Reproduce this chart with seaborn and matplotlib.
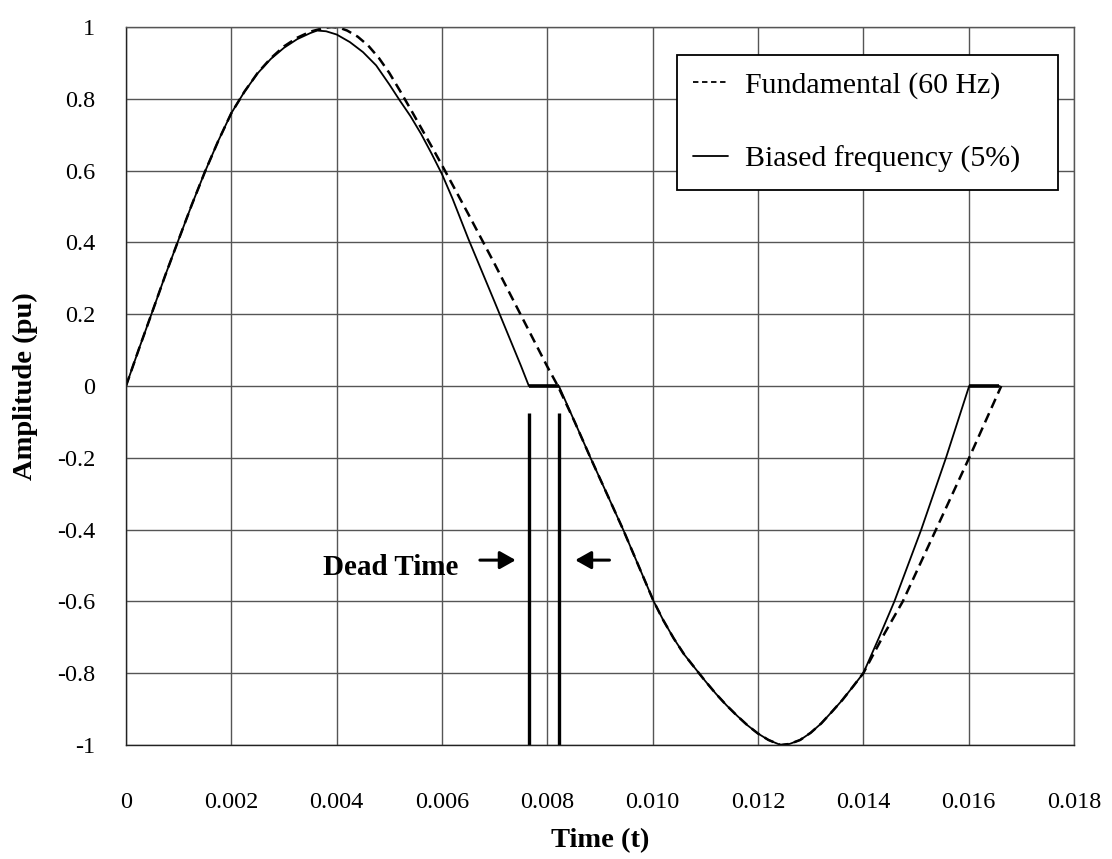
import numpy as np
import pandas as pd
import matplotlib
matplotlib.use("Agg")
import matplotlib.pyplot as plt
from matplotlib.lines import Line2D
import seaborn as sns

# ---- data ----
t_fund = [0, 0.00025, 0.0005, 0.00075, 0.001, 0.00125, 0.0015, 0.00175, 0.002, 0.00225,
          0.0025, 0.00275, 0.003, 0.00325, 0.0035, 0.00375, 0.0039, 0.00405, 0.0042, 0.0044,
          0.0046, 0.0048, 0.005, 0.0052, 0.0054, 0.0056, 0.0058, 0.006, 0.0065, 0.007,
          0.0075, 0.008, 0.0082,
          0.00852, 0.00882, 0.00913, 0.00944, 0.00973, 0.01002, 0.0102, 0.0104, 0.0106,
          0.01088, 0.011, 0.0112, 0.0114, 0.0116, 0.0118, 0.012, 0.0122, 0.01243,
          0.0126, 0.0128, 0.013, 0.0132, 0.0134, 0.0136, 0.0138, 0.014, 0.0144,
          0.01475, 0.01538, 0.01601, 0.01662]
y_fund = [0, 0.105, 0.207, 0.31, 0.408, 0.505, 0.597, 0.682, 0.76, 0.82,
          0.872, 0.913, 0.946, 0.97, 0.987, 0.997, 1.0, 0.998, 0.99, 0.973,
          0.948, 0.914, 0.872, 0.823, 0.772, 0.72, 0.668, 0.615, 0.479, 0.34,
          0.197, 0.054, 0,
          -0.1, -0.2, -0.3, -0.4, -0.5, -0.6, -0.652, -0.703, -0.748,
          -0.8, -0.822, -0.857, -0.889, -0.918, -0.945, -0.968, -0.986, -1.0,
          -0.997, -0.986, -0.966, -0.94, -0.908, -0.875, -0.838, -0.8, -0.69,
          -0.6, -0.4, -0.2, 0]

t_bias = [0, 0.00025, 0.0005, 0.00075, 0.001, 0.00125, 0.0015, 0.00175, 0.002, 0.00225,
          0.0025, 0.00275, 0.003, 0.00325, 0.0035, 0.00363, 0.0038, 0.004, 0.00425, 0.0045,
          0.00475, 0.005, 0.0052, 0.0054, 0.0056, 0.0058, 0.006, 0.0062, 0.0065, 0.007,
          0.0075, 0.00765, 0.00822,
          0.00852, 0.00882, 0.00913, 0.00944, 0.00973, 0.01002, 0.0102, 0.0104, 0.0106,
          0.01088, 0.011, 0.0112, 0.0114, 0.0116, 0.0118, 0.012, 0.0122, 0.01243,
          0.0126, 0.0128, 0.013, 0.0132, 0.0134, 0.0136, 0.0138, 0.014, 0.0143,
          0.01459, 0.0151, 0.01557, 0.01601, 0.01658]
y_bias = [0, 0.105, 0.207, 0.31, 0.408, 0.505, 0.597, 0.682, 0.76, 0.82,
          0.871, 0.911, 0.942, 0.966, 0.983, 0.99, 0.988, 0.979, 0.958, 0.93,
          0.893, 0.84, 0.795, 0.752, 0.703, 0.648, 0.59, 0.522, 0.41, 0.234,
          0.056, 0, 0,
          -0.1, -0.2, -0.3, -0.4, -0.5, -0.6, -0.652, -0.703, -0.748,
          -0.8, -0.822, -0.857, -0.889, -0.918, -0.945, -0.968, -0.986, -1.0,
          -0.997, -0.986, -0.966, -0.94, -0.908, -0.875, -0.838, -0.8, -0.7,
          -0.6, -0.4, -0.2, 0, 0]

dead_time = [0.00765, 0.00822]
dead_marker_top = -0.075

x_ticks = [0, 0.002, 0.004, 0.006, 0.008, 0.010, 0.012, 0.014, 0.016, 0.018]
x_labels = ["0", "0.002", "0.004", "0.006", "0.008", "0.010", "0.012", "0.014", "0.016", "0.018"]
y_ticks = [-1, -0.8, -0.6, -0.4, -0.2, 0, 0.2, 0.4, 0.6, 0.8, 1]
y_labels = ["-1", "-0.8", "-0.6", "-0.4", "-0.2", "0", "0.2", "0.4", "0.6", "0.8", "1"]

labels = ["Fundamental (60 Hz)", "Biased frequency (5%)"]

# ---- style ----
sns.set_theme(style="whitegrid")
plt.rcParams["font.family"] = ["Liberation Serif", "DejaVu Serif"]
plt.rcParams["text.color"] = "black"
plt.rcParams["axes.labelcolor"] = "black"
plt.rcParams["xtick.color"] = "black"
plt.rcParams["ytick.color"] = "black"

fig = plt.figure(figsize=(11.12, 8.59), dpi=100)
ax = fig.add_axes([0.1133, 0.1327, 0.8525, 0.8359])
ax.set_facecolor("white")

fund_df = pd.DataFrame({"t": t_fund, "y": y_fund})
bias_df = pd.DataFrame({"t": t_bias, "y": y_bias})

sns.lineplot(data=fund_df, x="t", y="y", ax=ax, color="black", lw=1.8,
             linestyle=(0, (4, 2.3)), estimator=None, sort=False, legend=False)
sns.lineplot(data=bias_df, x="t", y="y", ax=ax, color="black", lw=1.3,
             estimator=None, sort=False, legend=False)

# thicker flat (zero) segments of the biased waveform
tb = np.array(t_bias); yb = np.array(y_bias)
for i in range(len(tb) - 1):
    if yb[i] == 0 and yb[i + 1] == 0:
        ax.plot([tb[i], tb[i + 1]], [0, 0], color="black", lw=2.6, solid_capstyle="butt")

# dead-time markers
ax.vlines(dead_time, -1, dead_marker_top, colors="black", lw=2.4)
arrow_style = "-|>,head_length=0.8,head_width=0.45"
ax.annotate("", xy=(0.0074, -0.485), xytext=(0.00672, -0.485),
            arrowprops=dict(arrowstyle=arrow_style, color="black", lw=2.2,
                            shrinkA=0, shrinkB=0))
ax.annotate("", xy=(0.00853, -0.485), xytext=(0.00918, -0.485),
            arrowprops=dict(arrowstyle=arrow_style, color="black", lw=2.2,
                            shrinkA=0, shrinkB=0))
ax.text(0.00502, -0.505, "Dead Time", fontsize=21, fontweight="bold",
        ha="center", va="center")

ax.set_xlim(0, 0.018)
ax.set_ylim(-1, 1)
ax.set_xticks(x_ticks)
ax.set_xticklabels(x_labels)
ax.set_yticks(y_ticks)
ax.set_yticklabels(y_labels)
ax.tick_params(axis="both", length=0, labelsize=17.5, colors="black")
ax.tick_params(axis="x", pad=34)
ax.tick_params(axis="y", pad=22)
ax.grid(True, color="#555555", lw=1.0)
for s in ax.spines.values():
    s.set_visible(True)
    s.set_color("#555555")
    s.set_linewidth(1.0)
ax.spines["left"].set_color("#222222")
ax.spines["bottom"].set_color("#222222")

ax.set_xlabel("Time (t)", fontsize=20.5, fontweight="bold", labelpad=11)
ax.set_ylabel("Amplitude (pu)", fontsize=20.5, fontweight="bold", labelpad=14)

handles = [Line2D([], [], color="black", lw=1.3, linestyle=(0, (3, 2))),
           Line2D([], [], color="black", lw=1.3)]
leg = ax.legend(handles, labels, loc="upper left",
                bbox_to_anchor=(0.581, 0.761, 0.402, 0.2), mode="expand",
                borderaxespad=0, fontsize=21.5, frameon=True, fancybox=False,
                edgecolor="black", framealpha=1, labelspacing=1.58,
                handlelength=1.15, handletextpad=0.6, borderpad=0.55)
leg.get_frame().set_linewidth(1.3)
for txt in leg.get_texts():
    txt.set_color("black")

fig.savefig("out.png", dpi=100, facecolor="white")
